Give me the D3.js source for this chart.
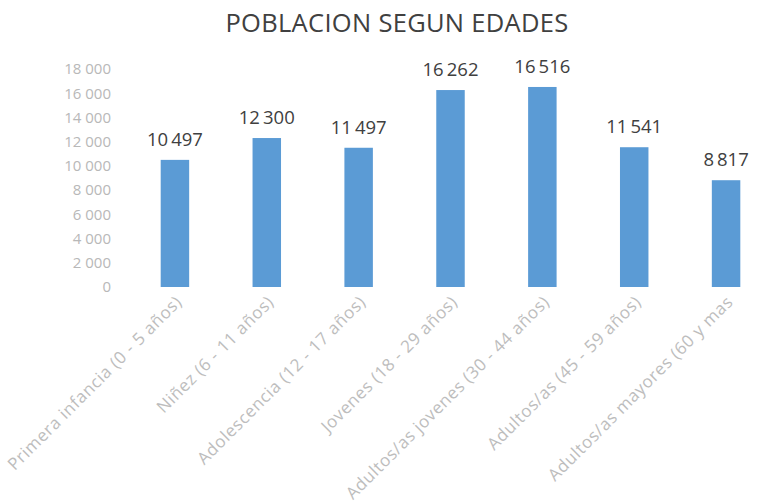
<!doctype html>
<html lang="es">
<head>
  <meta charset="utf-8">
  <title>Poblacion segun edades</title>
  <style>
    * { margin: 0; padding: 0; box-sizing: border-box; }
    body { background: #fff; }
    #container { width: 758px; height: 503px; }
    text { font-family: "Open Sans", "Liberation Sans", sans-serif; }
  </style>
</head>
<body>
  <div id="container"></div>
  <script src="https://cdn.jsdelivr.net/npm/d3@7"></script>
  <script>
    const categories = [
      'Primera infancia (0 - 5 años)',
      'Niñez (6 - 11 años)',
      'Adolescencia (12 - 17 años)',
      'Jovenes (18 - 29 años)',
      'Adultos/as jovenes (30 - 44 años)',
      'Adultos/as (45 - 59 años)',
      'Adultos/as mayores (60 y mas'
    ];
    const values = [10497, 12300, 11497, 16262, 16516, 11541, 8817];
    const yTicks = [0, 2000, 4000, 6000, 8000, 10000, 12000, 14000, 16000, 18000];

    const W = 758, H = 503;
    const fmtThin = v => d3.format(',')(v).replace(/,/g, '\u2009');
    const fmtSpace = v => d3.format(',')(v).replace(/,/g, ' ');

    const svg = d3.select('#container').append('svg')
      .attr('width', W)
      .attr('height', H);

    const x = d3.scaleBand()
      .domain(categories)
      .range([129, 772])
      .paddingInner(0.69)
      .paddingOuter(0.345);

    const y = d3.scaleLinear()
      .domain([0, 18000])
      .range([287, 69]);

    // title
    svg.append('text')
      .attr('x', 397)
      .attr('y', 32)
      .attr('text-anchor', 'middle')
      .attr('fill', '#404040')
      .style('font-size', '25.5px')
      .style('letter-spacing', '0.3px')
      .text('POBLACION SEGUN EDADES');

    // y axis labels only
    const yAxis = svg.append('g')
      .attr('transform', 'translate(111,0)')
      .call(d3.axisLeft(y).tickValues(yTicks).tickSize(0).tickFormat(fmtSpace));
    yAxis.select('.domain').remove();
    yAxis.selectAll('text')
      .attr('x', 0)
      .attr('fill', '#b8b8b8')
      .style('font-size', '15px')
      .style('font-family', '"Open Sans", sans-serif');

    // bars
    svg.append('g').selectAll('rect')
      .data(values)
      .join('rect')
      .attr('x', (d, i) => x(categories[i]))
      .attr('y', d => y(d))
      .attr('width', x.bandwidth())
      .attr('height', d => y(0) - y(d))
      .attr('fill', '#5b9bd5');

    // value labels
    svg.append('g').selectAll('text')
      .data(values)
      .join('text')
      .attr('x', (d, i) => x(categories[i]) + x.bandwidth() / 2)
      .attr('y', d => y(d) - 14)
      .attr('text-anchor', 'middle')
      .attr('fill', '#404040')
      .style('font-size', '18.5px')
      .text(fmtThin);

    // category labels
    svg.append('g').selectAll('text')
      .data(categories)
      .join('text')
      .attr('transform', d => `translate(${x(d) + x.bandwidth() / 2 + 8},${303}) rotate(-45)`)
      .attr('text-anchor', 'end')
      .attr('fill', '#bdbdbd')
      .style('font-size', '17px')
      .style('letter-spacing', '0.6px')
      .text(d => d);
  </script>
</body>
</html>
